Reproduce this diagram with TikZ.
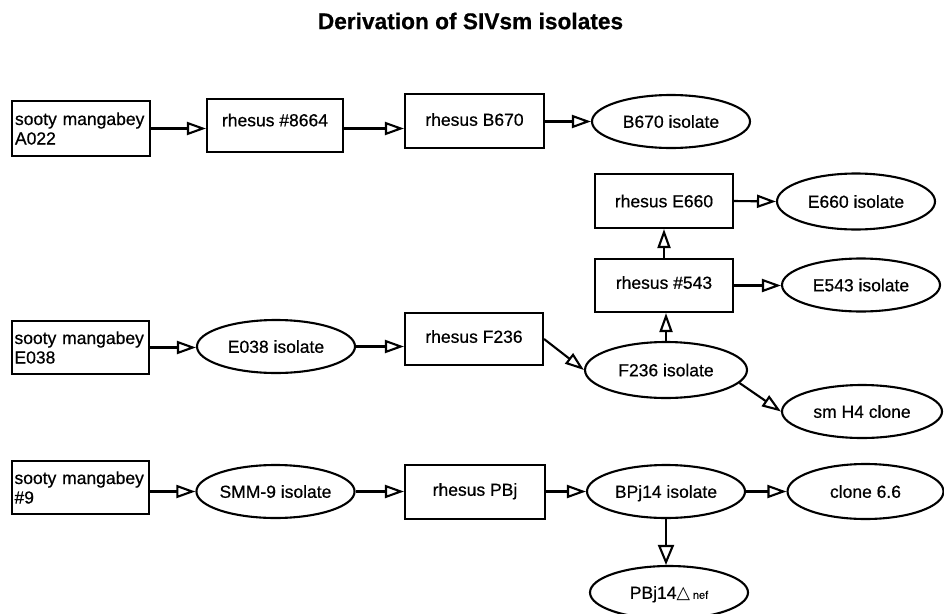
\documentclass[tikz,border=0pt]{standalone}
\usepackage{fontspec}
\setmainfont[FakeBold=0.6]{Liberation Sans}
\newfontfamily\titlefont[FakeBold=0.6]{Liberation Sans Bold}
\newfontfamily\symfont{DejaVu Sans}
\usetikzlibrary{shapes.geometric,arrows.meta}
\begin{document}
\begin{tikzpicture}[x=1pt,y=-1pt,
  box/.style={draw, line width=2.1pt, rectangle, inner sep=0pt, font=\fontsize{17.5}{19.5}\selectfont, text height=12.6pt},
  oval/.style={draw, line width=2.1pt, ellipse, inner sep=0pt, font=\fontsize{17.5}{19.5}\selectfont, text height=12.6pt, text depth=0pt},
  smbox/.style={draw, line width=2.1pt, rectangle, inner ysep=0pt, inner xsep=2.5pt, align=left, text width=132pt, font=\fontsize{17.5}{19.5}\selectfont},
  arr/.style={line width=2.1pt, -{Triangle[open, length=19pt, width=13pt]}},
  bigarr/.style={line width=2.1pt, -{Triangle[open, length=20pt, width=16pt]}},
  titlestyle/.style={font=\titlefont\fontsize{22.7}{26}\selectfont}
]
\clip (0,0) rectangle (944,613);
\node[titlestyle] (title) at (470.5,21) {Derivation of SIVsm isolates};

% row 1
\node[smbox, minimum width=138pt, minimum height=55pt] (sA) at (81,128.5) {sooty mangabey\\A022};
\node[box, minimum width=136pt, minimum height=53pt, text depth=11pt] (r8664) at (275,125.5) {rhesus \#8664};
\node[box, minimum width=139pt, minimum height=54pt, text depth=3pt] (rB670) at (474.5,121) {rhesus B670};
\node[oval, minimum width=158pt, minimum height=53pt] (iB670) at (671,121.5) {B670 isolate};

% row 2
\node[box, minimum width=138pt, minimum height=54pt, text depth=0pt] (rE660) at (664,201) {rhesus E660};
\node[oval, minimum width=158pt, minimum height=56pt] (iE660) at (856,201.5) {E660 isolate};
\node[box, minimum width=138pt, minimum height=53pt, text depth=6pt] (r543) at (664,285.5) {rhesus \#543};
\node[oval, minimum width=158pt, minimum height=53pt] (iE543) at (861,285) {E543 isolate};

% row 3
\node[smbox, minimum width=137pt, minimum height=53pt] (sE) at (80.5,347.5) {sooty mangabey\\E038};
\node[oval, minimum width=158pt, minimum height=53pt] (iE038) at (276,346.5) {E038 isolate};
\node[box, minimum width=138pt, minimum height=52pt, text depth=5pt] (rF236) at (474,339) {rhesus F236};
\node[oval, minimum width=162pt, minimum height=56pt] (iF236) at (666,370) {F236 isolate};
\node[oval, minimum width=160pt, minimum height=53pt] (smH4) at (862,411.5) {sm H4 clone};

% row 4
\node[smbox, minimum width=137pt, minimum height=53pt] (s9) at (80.5,487.5) {sooty mangabey\\\#9};
\node[oval, minimum width=157pt, minimum height=53pt] (iSMM) at (275.5,491.5) {SMM-9 isolate};
\node[box, minimum width=140pt, minimum height=54pt, text depth=5pt] (rPBj) at (475,492) {rhesus PBj};
\node[oval, minimum width=158pt, minimum height=53pt] (iBPj) at (666,491.5) {BPj14 isolate};
\node[oval, minimum width=156pt, minimum height=55pt] (iClone) at (865.5,491.5) {clone 6.6};
\node[oval, minimum width=158pt, minimum height=53pt] (iPBj) at (669,592.5) {PBj14{\symfont △}\,{\fontsize{11}{12}\selectfont nef}};

% connectors
\draw[arr] (sA.east) -- (sA.east -| r8664.west);
\draw[arr] (r8664.east |- sA.east) -- (sA.east -| rB670.west);
\draw[arr] (iB670.west -| rB670.east) -- (iB670.west);
\draw[arr] (r543.north) -- (rE660.south);
\draw[arr] (rE660.east) -- (iE660.west);
\draw[arr] (r543.east) -- (r543.east -| iE543.west);
\draw[arr] (sE.east) -- (sE.east -| iE038.west);
\draw[arr] (iE038.east) -- (iE038.east -| rF236.west);
\draw[arr] (rF236.east) -- (iF236.west);
\draw[arr] (iF236.north) -- (iF236.north |- r543.south);
\draw[arr] (iF236.-10) -- (smH4.west);
\draw[arr] (iSMM.west -| s9.east) -- (iSMM.west);
\draw[arr] (iSMM.east) -- (iSMM.east -| rPBj.west);
\draw[arr] (iBPj.west -| rPBj.east) -- (iBPj.west);
\draw[arr] (iBPj.east) -- (iBPj.east -| iClone.west);
\draw[bigarr] (iBPj.south) -- (iBPj.south |- iPBj.north);
\end{tikzpicture}
\end{document}
